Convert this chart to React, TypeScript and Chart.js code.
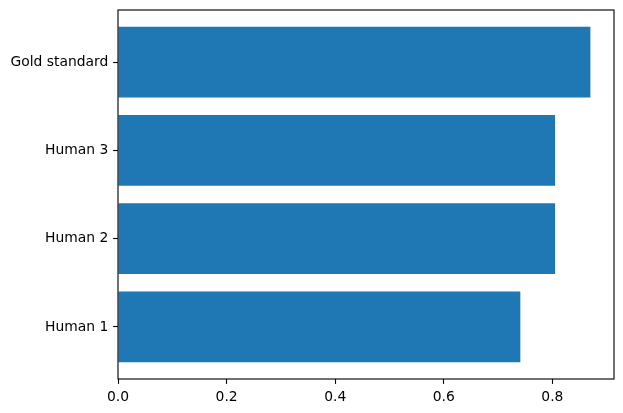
import React, { useEffect, useRef } from "react";
import { Chart, registerables } from "chart.js";

Chart.register(...registerables);

const categories = ["Human 1", "Human 2", "Human 3", "Gold standard"];
const scores = [0.741, 0.805, 0.805, 0.870];
const xTicks = [0, 0.2, 0.4, 0.6, 0.8];
const yTicks = [0, 1, 2, 3];

const PT = 100 / 72;

const spinePlugin = {
  id: "spines",
  afterDraw(chart: any) {
    const { ctx, chartArea } = chart;
    ctx.save();
    ctx.strokeStyle = "#000";
    ctx.lineWidth = 0.8 * PT;
    ctx.strokeRect(chartArea.left, chartArea.top, chartArea.right - chartArea.left, chartArea.bottom - chartArea.top);
    ctx.restore();
  },
};

export default function App() {
  const ref = useRef<HTMLCanvasElement>(null);
  useEffect(() => {
    const canvas = ref.current!;
    const maxV = Math.max(...scores) * 1.05;
    const n = categories.length;
    const pad = (n - 1 + 0.8) * 0.05;
    const font = { family: "DejaVu Sans", size: 10 * PT };
    const chart = new Chart(canvas, {
      type: "bar",
      data: {
        datasets: [
          {
            data: scores.map((v, i) => ({ x: v, y: i })),
            backgroundColor: "#1f77b4",
            borderWidth: 0,
            barPercentage: 0.8,
            categoryPercentage: 1,
          },
        ],
      },
      options: {
        indexAxis: "y",
        responsive: false,
        animation: false,
        devicePixelRatio: 1,
        layout: { padding: { top: 10, right: 9, left: 0, bottom: 0 } },
        plugins: { legend: { display: false }, tooltip: { enabled: false } },
        scales: {
          x: {
            type: "linear",
            min: 0,
            max: maxV,
            offset: false,
            border: { display: false },
            grid: { offset: false, drawOnChartArea: false, drawTicks: true, tickLength: 3.5 * PT, tickWidth: 0.8 * PT, tickColor: "#000" },
            ticks: { color: "#000", font, padding: 3.5 * PT, maxRotation: 0, callback: (v: any) => Number(v).toFixed(1) },
            afterBuildTicks: (s: any) => { s.ticks = xTicks.map((v) => ({ value: v })); },
            afterFit: (s: any) => { s.height = 34; s.paddingLeft = 0; s.paddingRight = 0; },
          },
          y: {
            type: "linear",
            min: -0.4 - pad,
            max: n - 1 + 0.4 + pad,
            offset: false,
            border: { display: false },
            grid: { offset: false, drawOnChartArea: false, drawTicks: true, tickLength: 3.5 * PT, tickWidth: 0.8 * PT, tickColor: "#000" },
            ticks: { color: "#000", font, padding: 3.5 * PT, callback: (v: any) => categories[v] ?? "" },
            afterBuildTicks: (s: any) => { s.ticks = yTicks.map((v) => ({ value: v })); },
            afterFit: (s: any) => { s.width = 118; s.paddingTop = 0; s.paddingBottom = 0; },
          },
        },
      } as any,
      plugins: [spinePlugin],
    });
    return () => chart.destroy();
  }, []);
  return (
    <div style={{ position: "absolute", left: 0, top: 0, width: 623, height: 413, background: "#fff" }}>
      <canvas ref={ref} width={623} height={413} />
    </div>
  );
}
